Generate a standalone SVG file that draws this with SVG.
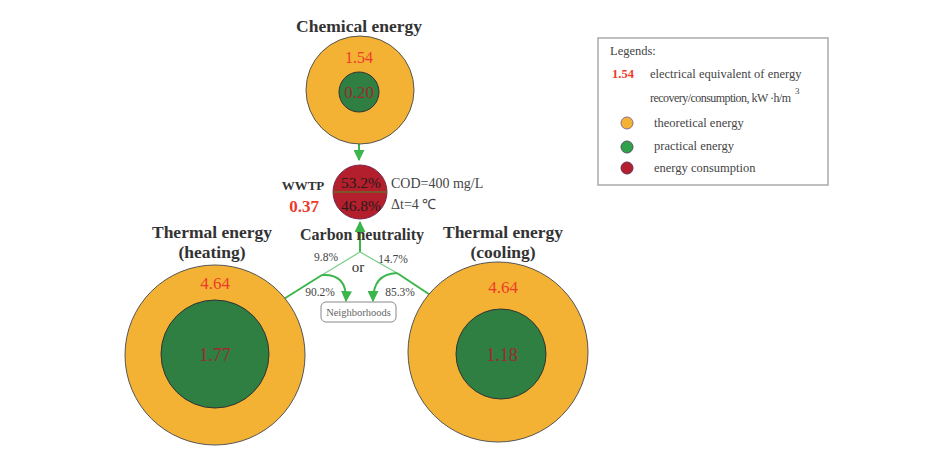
<svg xmlns="http://www.w3.org/2000/svg" width="938" height="471" viewBox="0 0 938 471">
<style>
text{font-family:"Liberation Serif","Times New Roman",serif}
.title{font-size:17.5px;font-weight:bold;fill:#333;text-anchor:middle}
.theo{fill:#f3b234;stroke:#555;stroke-width:1}
.prac{fill:#2f7e42;stroke:#333;stroke-width:1}
.red{fill:#ee3a2a;text-anchor:middle}
.dred{fill:#9e2b2b;text-anchor:middle}
.pct{font-size:11.5px;fill:#444;text-anchor:middle}
.leg{font-size:12.5px;fill:#444}
.c1{fill:none;stroke:#3cb54b;stroke-width:2}
.c2{fill:none;stroke:#7fd08d;stroke-width:1.3}
</style>
<defs>
<marker id="ah" viewBox="0 0 10 10" refX="9" refY="5" markerWidth="5.5" markerHeight="5.5" orient="auto"><path d="M0,0 L10,5 L0,10 z" fill="#3cb54b"/></marker>
</defs>
<rect width="938" height="471" fill="#fff"/>

<g id="connectors">
<path class="c1" d="M359,112 L359,160" marker-end="url(#ah)"/>
<path class="c1" d="M360,252 L360,222" marker-end="url(#ah)"/>
<path class="c2" d="M322,275 L360,252 L397,273"/>
<path class="c1" d="M255,317 L322,275"/>
<path class="c1" d="M468,320 L397,273"/>
<path class="c1" d="M322,275 C338,274 347,282 346,301" marker-end="url(#ah)"/>
<path class="c1" d="M397,273 C381,274 373,282 373,301" marker-end="url(#ah)"/>
</g>

<g id="chemical">
<text class="title" x="359" y="32">Chemical energy</text>
<circle class="theo" cx="360" cy="90" r="54"/>
<circle class="prac" cx="359" cy="92" r="20"/>
<text class="red" x="359" y="63" font-size="16">1.54</text>
<text class="dred" x="359" y="98" font-size="17">0.20</text>
</g>

<g id="wwtp">
<circle cx="360" cy="192" r="27" fill="#b31f2d" stroke="#7a2a4a" stroke-width="1"/>
<line x1="333" y1="192" x2="387" y2="192" stroke="#6b6a2a" stroke-width="1.5"/>
<text x="361" y="188" font-size="15.5" fill="#2a1a1a" text-anchor="middle">53.2%</text>
<text x="361" y="211" font-size="15.5" fill="#2a1a1a" text-anchor="middle">46.8%</text>
<text x="303" y="190" font-size="13" font-weight="bold" fill="#333" text-anchor="middle">WWTP</text>
<text x="304" y="212" font-size="17" font-weight="bold" fill="#ee3a2a" text-anchor="middle">0.37</text>
<text x="391" y="188" font-size="14" fill="#444">COD=400 mg/L</text>
<text x="391" y="209" font-size="14" fill="#444">Δt=4 ℃</text>
</g>

<g id="carbon">
<text class="title" x="362" y="240" style="font-size:16px">Carbon neutrality</text>
<text x="358" y="272" font-size="15" fill="#333" text-anchor="middle">or</text>
<text class="pct" x="326" y="261">9.8%</text>
<text class="pct" x="393" y="263">14.7%</text>
<text class="pct" x="320" y="296">90.2%</text>
<text class="pct" x="400" y="296">85.3%</text>
</g>

<g id="neighborhoods">
<rect x="321" y="302" width="75" height="20" rx="5" fill="#fff" stroke="#888" stroke-width="1"/>
<text x="358.5" y="316" font-size="10.5" fill="#666" text-anchor="middle">Neighborhoods</text>
</g>

<g id="heating">
<text class="title" x="212" y="238">Thermal energy</text>
<text class="title" x="212" y="258">(heating)</text>
<circle class="theo" cx="215" cy="355" r="90"/>
<circle class="prac" cx="215" cy="354" r="54"/>
<text class="red" x="215" y="289" font-size="17">4.64</text>
<text class="dred" x="215" y="361" font-size="18">1.77</text>
</g>

<g id="cooling">
<text class="title" x="503" y="238">Thermal energy</text>
<text class="title" x="503" y="258">(cooling)</text>
<circle class="theo" cx="498" cy="352" r="90"/>
<circle class="prac" cx="501" cy="354" r="45"/>
<text class="red" x="503" y="293" font-size="17">4.64</text>
<text class="dred" x="502" y="361" font-size="18">1.18</text>
</g>

<g id="legend">
<rect x="598" y="38" width="230" height="147" fill="#fff" stroke="#aaa" stroke-width="1.5"/>
<text class="leg" x="610" y="55">Legends:</text>
<text x="612" y="78" font-size="12.5" font-weight="bold" fill="#ee3a2a">1.54</text>
<text class="leg" x="650" y="78">electrical equivalent of energy</text>
<text x="650" y="102" font-size="12" fill="#444" textLength="141" lengthAdjust="spacing">recovery/consumption, kW ·h/m</text>
<text x="795" y="94" font-size="9" fill="#444">3</text>
<circle cx="627" cy="123" r="6" fill="#f3b234" stroke="#8a6a8a" stroke-width="1"/>
<circle cx="627" cy="147" r="6" fill="#2fa14a" stroke="#555" stroke-width="1"/>
<circle cx="627" cy="168" r="6" fill="#b31f2d" stroke="#6a2a5a" stroke-width="1"/>
<text class="leg" x="654" y="127">theoretical energy</text>
<text class="leg" x="654" y="150">practical energy</text>
<text class="leg" x="654" y="172">energy consumption</text>
</g>
</svg>
